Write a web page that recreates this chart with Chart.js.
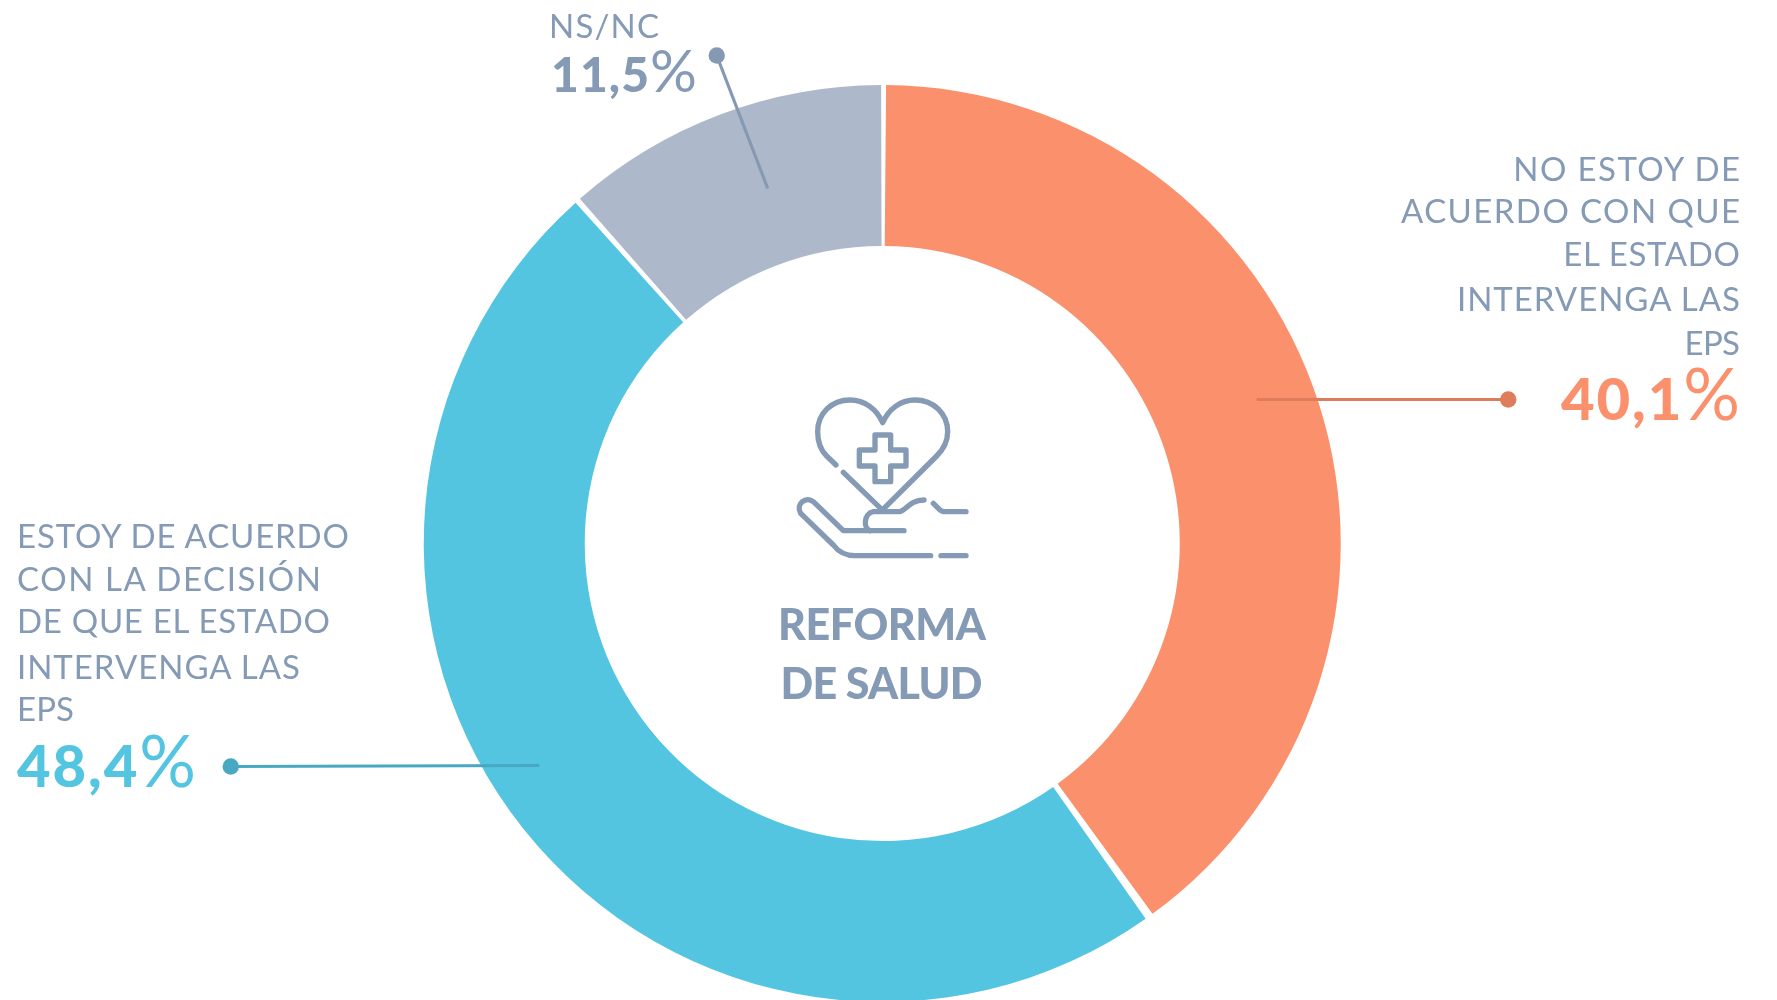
<!DOCTYPE html>
<html lang="es"><head><meta charset="utf-8">
<script src="https://cdn.jsdelivr.net/npm/chart.js@4"></script>
<style>
html,body{margin:0;padding:0;background:#fff;overflow:hidden;width:1777px;height:1000px}
#wrap{position:relative;width:1777px;height:1000px;overflow:hidden}
#cv{position:absolute;left:0;top:0}
.t{position:absolute;white-space:nowrap;font-family:Lato,sans-serif;font-weight:400;color:#859ab5;font-size:33px;line-height:40px;height:40px}
.n{font-family:Lato,sans-serif;font-weight:900}
.p{font-weight:400;font-size:1.22em}
.c{font-weight:900;font-size:43px;line-height:50px;height:50px}
svg{position:absolute}
</style></head><body>
<div id="wrap"><canvas id="cv"></canvas>
<svg style="left:760px;top:370px" width="260" height="350" viewBox="0 0 780 1050" fill="none" stroke="#859ab5" stroke-width="16" stroke-linecap="round" stroke-linejoin="round">
<path d="M228,285 L200,258 C180,238 173,210 173,185 C173,130 215,90 270,90 C315,90 350,118 368,158 C386,118 420,90 465,90 C520,90 563,130 563,185 C563,210 550,238 530,258 L372,415"/>
<path d="M250,307 L365,418"/>
<path d="M345,195 H392 V240 H438 V288 H392 V335 H345 V288 H298 V240 H345 Z"/>
<path d="M432,482 H250 L160,395 C140,378 105,400 122,430 L220,525 C235,545 255,557 285,557 H512"/>
<path d="M543,557 H618"/>
<path d="M330,482 C310,475 310,430 340,425 H420 C440,420 450,390 492,390"/>
<path d="M520,400 L538,418 Q545,425 555,425 H618"/>
</svg>
</div>
<script>
const categories = ["NO ESTOY DE ACUERDO CON QUE EL ESTADO INTERVENGA LAS EPS","ESTOY DE ACUERDO CON LA DECISIÓN DE QUE EL ESTADO INTERVENGA LAS EPS","NS/NC"];
const values = [40.1, 48.4, 11.5];
const colors = ["#fa916c", "#54c5e0", "#adb8ca"];
const textColors = ["#fa916c", "#54c5e0", "#859ab5"];
const leaderColors = ["#de7d5b", "#48a8c2", "#8599b3"];
const labelLines = [
  ["NO ESTOY DE","ACUERDO CON QUE","EL ESTADO","INTERVENGA LAS","EPS"],
  ["ESTOY DE ACUERDO","CON LA DECISIÓN","DE QUE EL ESTADO","INTERVENGA LAS","EPS"],
  ["NS/NC"]
];
const centerLines = ["REFORMA","DE SALUD"];
const wrap = document.getElementById('wrap');
const cv = document.getElementById('cv');
cv.style.width='1777px';cv.style.height='1002px';cv.width=1777;cv.height=1002;

const leaders = [
  {from:[374.5,-144],to:[626,-144]},
  {from:[-343,222],to:[-651.5,223]},
  {from:[-114.5,-355],to:[-165.5,-488]}
];
const leaderPlugin = {id:'leaders',afterDatasetsDraw(chart){
  const arc = chart.getDatasetMeta(0).data[0];
  const g = chart.ctx;
  leaders.forEach((l,i)=>{
    g.save();
    g.strokeStyle = leaderColors[i]; g.fillStyle = leaderColors[i];
    g.lineWidth = 3.2;
    g.beginPath();g.moveTo(arc.x+l.from[0],arc.y+l.from[1]);g.lineTo(arc.x+l.to[0],arc.y+l.to[1]);g.stroke();
    g.beginPath();g.arc(arc.x+l.to[0],arc.y+l.to[1],8.2,0,Math.PI*2);g.fill();
    g.restore();
  });
}};
new Chart(cv,{type:'doughnut',
  data:{labels:categories,datasets:[{data:values,backgroundColor:colors,borderWidth:0,spacing:5,hoverOffset:0}]},
  options:{responsive:false,animation:false,cutout:'64.7%',rotation:0,
    layout:{padding:{top:85,right:12.5,bottom:0,left:0}},
    plugins:{legend:{display:false},tooltip:{enabled:false}}},
  plugins:[leaderPlugin]});

function put(txt,css,width,cls){
  const d=document.createElement('div');d.className='t '+(cls||'');d.innerHTML=txt;Object.assign(d.style,css);wrap.appendChild(d);
  const w=d.getBoundingClientRect().width;const n=d.textContent.length-1;
  const ls=(width-w)/n;d.style.letterSpacing=ls+'px';
  if(css.right)d.style.marginRight=(-ls)+'px';
  return d;
}
function pct(i){const s=String(values[i]).replace('.',',');return '<span class="n">'+s+'</span><span class="p">%</span>';}
const rightEdge = 1777-1740;
const ys=[[168,210,253,298,342],[535,578,620,666,708],[25]];
const ws=[[226.7,339,176.8,283,55.5],[332,304,313,283,57],[110]];
labelLines[0].forEach((s,k)=>put(s,{right:rightEdge+'px',top:(ys[0][k]-20)+'px'},ws[0][k]));
labelLines[1].forEach((s,k)=>put(s,{left:'17px',top:(ys[1][k]-20)+'px'},ws[1][k]));
labelLines[2].forEach((s,k)=>put(s,{left:'549px',top:(ys[2][k]-20)+'px'},ws[2][k]));
put(pct(0),{right:rightEdge+'px',top:'363px',fontSize:'58px',lineHeight:'60px',height:'60px',color:textColors[0]},179);
put(pct(1),{left:'17px',top:'730px',fontSize:'58px',lineHeight:'60px',height:'60px',color:textColors[1]},179);
put(pct(2),{left:'551px',top:'44px',fontSize:'48px',lineHeight:'50px',height:'50px',color:textColors[2]},146);
const cw=[208,202],cl=[778,780.5];
centerLines.forEach((s,k)=>put(s,{top:(599+k*59)+'px',left:cl[k]+'px'},cw[k],'c'));
</script>
</body></html>
